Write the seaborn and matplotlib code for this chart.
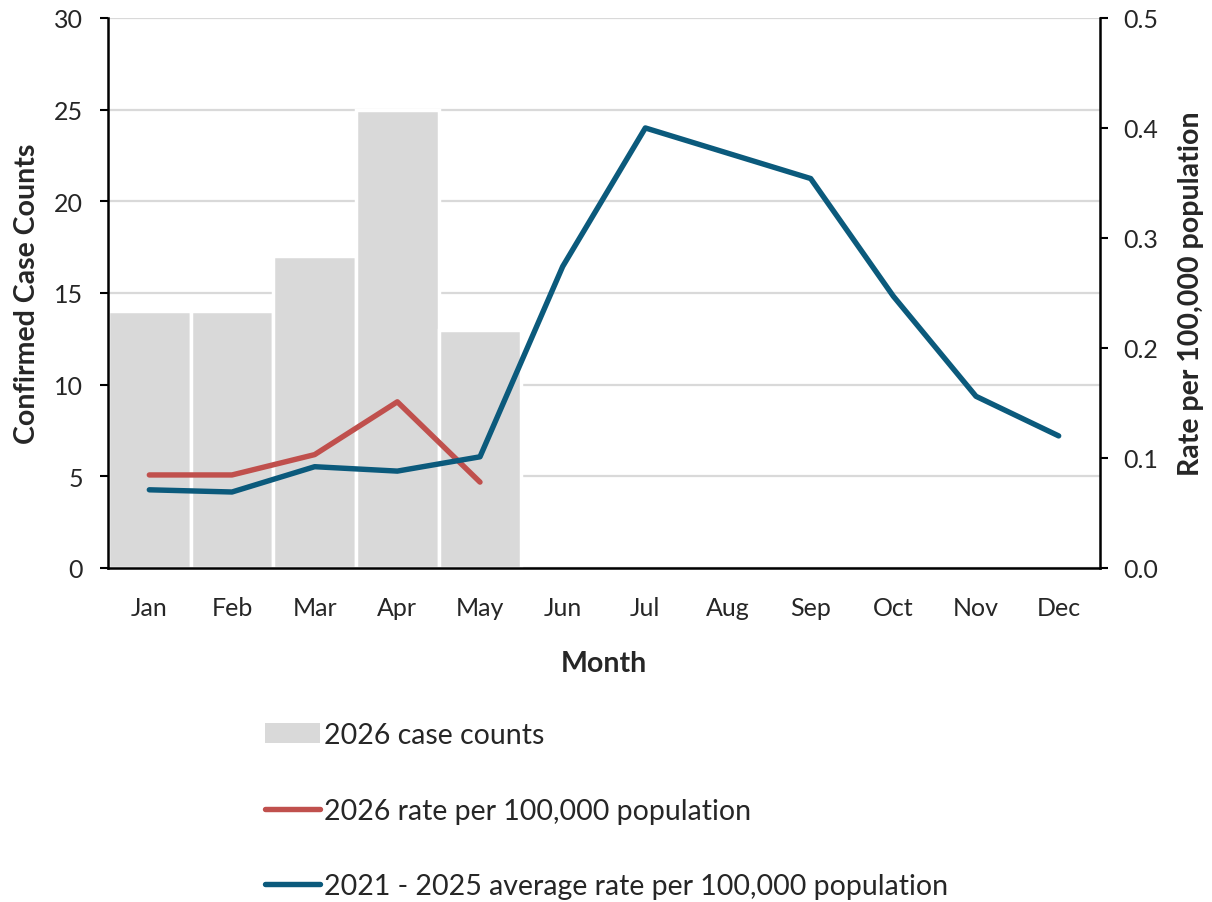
import numpy as np
import pandas as pd
import matplotlib
matplotlib.use("Agg")
import matplotlib.pyplot as plt
from matplotlib.patches import Patch
from matplotlib.lines import Line2D
import seaborn as sns

months = ["Jan", "Feb", "Mar", "Apr", "May", "Jun", "Jul", "Aug", "Sep", "Oct", "Nov", "Dec"]
counts_2026 = [14, 14, 17, 25, 13, np.nan, np.nan, np.nan, np.nan, np.nan, np.nan, np.nan]
rate_2026 = [0.0845, 0.0845, 0.103, 0.151, 0.078, np.nan, np.nan, np.nan, np.nan, np.nan, np.nan, np.nan]
rate_avg = [0.071, 0.069, 0.092, 0.088, 0.101, 0.274, 0.400, 0.377, 0.354, 0.247, 0.156, 0.120]

sns.set_theme(style="white")
plt.rcParams['font.family'] = ['Lato', 'DejaVu Sans']

GRAY = "#D9D9D9"
RED = "#C0504D"
BLUE = "#0B5A7C"

df = pd.DataFrame({"month": months, "count": counts_2026, "pos": np.arange(len(months)),
                   "r26": rate_2026, "ravg": rate_avg})

fig = plt.figure(figsize=(12.12, 9.03), dpi=100)
ax = fig.add_axes([0.0891, 0.370, 0.8185, 0.609])

ax.set_axisbelow(True)
ax.yaxis.grid(True, color=GRAY, linewidth=1.6)
sns.barplot(data=df.dropna(subset=["count"]), x="pos", y="count", ax=ax, color=GRAY,
            width=1.0, edgecolor="white", linewidth=2.5, saturation=1,
            native_scale=True, errorbar=None, zorder=2)
ax.set_xlim(-0.5, 11.5)
ax.set_ylim(0, 30)
ax.set_yticks(range(0, 31, 5))
ax.set_xticks(df["pos"])
ax.set_xticklabels(months)
ax.set_xlabel("Month", fontsize=20.5, fontweight="bold", labelpad=22)
ax.set_ylabel("Confirmed Case Counts", fontsize=20.5, fontweight="bold", labelpad=10)
ax.tick_params(axis="y", labelsize=18, length=6, width=1.5, color="black", direction="out", left=True, pad=12)
ax.tick_params(axis="x", labelsize=18, length=0, pad=20.5)

ax2 = ax.twinx()
sns.lineplot(data=df, x="pos", y="r26", ax=ax2, color=RED, linewidth=3.9, zorder=3)
sns.lineplot(data=df, x="pos", y="ravg", ax=ax2, color=BLUE, linewidth=3.9, zorder=4)
ax2.set_ylim(0, 0.5)
ax2.set_yticks(np.arange(0, 0.51, 0.1))
ax2.set_yticklabels([f"{v:.1f}" for v in np.arange(0, 0.51, 0.1)])
ax2.set_ylabel("Rate per 100,000 population", fontsize=20.5, fontweight="bold", labelpad=14)
ax2.tick_params(axis="y", labelsize=18, length=6, width=1.5, color="black", direction="out", right=True, pad=11)
ax2.grid(False)
ax2.set_xlim(-0.5, 11.5)

for a in (ax, ax2):
    a.spines["top"].set_visible(False)
    for s in ("left", "right", "bottom"):
        a.spines[s].set_color("black")
        a.spines[s].set_linewidth(1.8)
ax.spines["right"].set_visible(False)
ax2.spines["left"].set_visible(False)
ax2.spines["bottom"].set_visible(False)

handles = [Patch(facecolor=GRAY, edgecolor="none"),
           Line2D([0], [0], color=RED, linewidth=3.9),
           Line2D([0], [0], color=BLUE, linewidth=3.9)]
labels = ["2026 case counts", "2026 rate per 100,000 population",
          "2021 - 2025 average rate per 100,000 population"]
fig.legend(handles, labels, loc="upper left", bbox_to_anchor=(0.2096, 0.2116),
           frameon=False, fontsize=20.5, labelspacing=1.73, handlelength=1.9,
           handletextpad=0.15, borderaxespad=0)

fig.savefig("out.png", dpi=100, facecolor="white")
